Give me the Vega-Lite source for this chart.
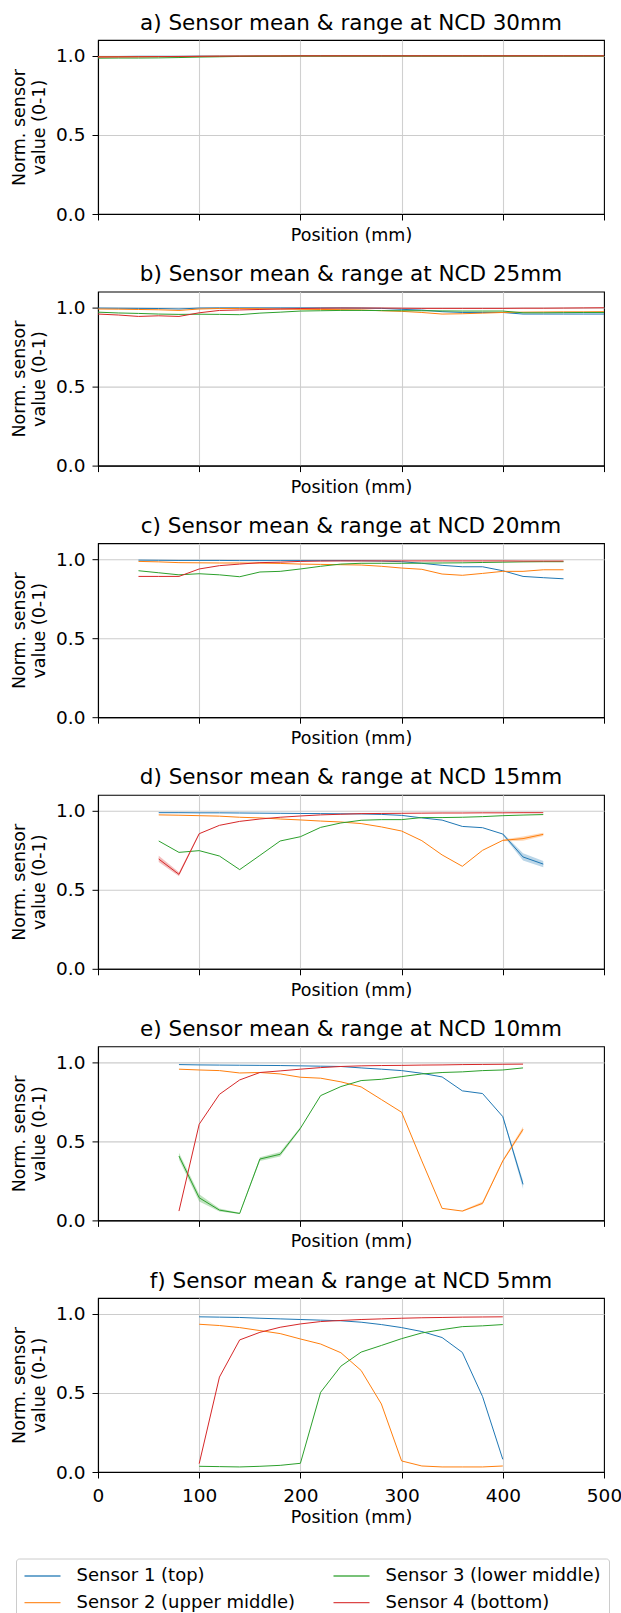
{
"$schema": "https://vega.github.io/schema/vega-lite/v6.json",
"background": "white",
"padding": {"left": 10, "top": 11, "right": 5, "bottom": 0},
"spacing": 17.6,
"config": {
  "font": "DejaVu Sans",
  "view": {"stroke": "#000000", "strokeWidth": 1.1},
  "axis": {"domain": true, "domainColor": "#000000", "domainWidth": 1.1, "tickColor": "#000000", "tickSize": 6, "tickWidth": 1, "labelFontSize": 18.5, "titleFontSize": 17.5, "labelColor": "#000000", "titleColor": "#000000", "titleFontWeight": "normal", "gridWidth": 1.1, "labelFlush": false, "labelOverlap": false, "labelFont": "DejaVu Sans", "titleFont": "DejaVu Sans"},
  "title": {"fontSize": 21.5, "fontWeight": "normal", "color": "#000000", "font": "DejaVu Sans", "anchor": "middle", "offset": 6},
  "legend": {"columns": 2, "symbolType": "M-1,0H3", "symbolSize": 324, "symbolStrokeWidth": 1.3, "symbolOpacity": 0.85, "labelFontSize": 18, "labelFont": "DejaVu Sans", "labelColor": "#000000", "labelOffset": 33, "columnPadding": 35, "rowPadding": 7.7, "padding": 7.5, "strokeColor": "#cccccc", "cornerRadius": 3, "fillColor": "#ffffff", "labelLimit": 400}
},
"datasets": {
"main": [
{"p":"a","x":0,"s1":0.996,"s2":0.994,"s3":0.985,"s4":0.992},
{"p":"a","x":20,"s1":0.996,"s2":0.994,"s3":0.986,"s4":0.993},
{"p":"a","x":40,"s1":0.997,"s2":0.994,"s3":0.986,"s4":0.994},
{"p":"a","x":60,"s1":0.997,"s2":0.995,"s3":0.987,"s4":0.995},
{"p":"a","x":80,"s1":0.997,"s2":0.995,"s3":0.989,"s4":0.996},
{"p":"a","x":100,"s1":0.998,"s2":0.996,"s3":0.992,"s4":0.997},
{"p":"a","x":120,"s1":0.998,"s2":0.997,"s3":0.994,"s4":0.998},
{"p":"a","x":140,"s1":0.999,"s2":0.998,"s3":0.996,"s4":0.998},
{"p":"a","x":160,"s1":0.999,"s2":0.998,"s3":0.997,"s4":0.999},
{"p":"a","x":180,"s1":0.999,"s2":0.999,"s3":0.998,"s4":0.999},
{"p":"a","x":200,"s1":0.999,"s2":0.999,"s3":0.999,"s4":1.0},
{"p":"a","x":220,"s1":0.999,"s2":0.999,"s3":0.999,"s4":1.0},
{"p":"a","x":240,"s1":0.999,"s2":0.999,"s3":0.999,"s4":1.0},
{"p":"a","x":260,"s1":0.999,"s2":0.999,"s3":0.999,"s4":1.0},
{"p":"a","x":280,"s1":0.999,"s2":0.999,"s3":0.999,"s4":1.0},
{"p":"a","x":300,"s1":0.999,"s2":0.999,"s3":0.999,"s4":1.0},
{"p":"a","x":320,"s1":0.999,"s2":0.999,"s3":0.999,"s4":1.0},
{"p":"a","x":340,"s1":0.999,"s2":0.999,"s3":0.999,"s4":1.0},
{"p":"a","x":360,"s1":0.999,"s2":0.999,"s3":0.999,"s4":1.0},
{"p":"a","x":380,"s1":0.999,"s2":0.999,"s3":0.999,"s4":1.0},
{"p":"a","x":400,"s1":0.999,"s2":0.999,"s3":0.999,"s4":1.0},
{"p":"a","x":420,"s1":0.999,"s2":0.999,"s3":0.999,"s4":1.0},
{"p":"a","x":440,"s1":0.999,"s2":0.999,"s3":0.999,"s4":1.0},
{"p":"a","x":460,"s1":0.999,"s2":0.999,"s3":0.999,"s4":1.0},
{"p":"a","x":480,"s1":0.999,"s2":0.999,"s3":0.999,"s4":1.0},
{"p":"a","x":500,"s1":0.999,"s2":0.999,"s3":0.999,"s4":1.0},
{"p":"b","x":0,"s1":0.996,"s2":0.99,"s3":0.97,"s4":0.958},
{"p":"b","x":20,"s1":0.995,"s2":0.989,"s3":0.965,"s4":0.952},
{"p":"b","x":40,"s1":0.994,"s2":0.987,"s3":0.962,"s4":0.943},
{"p":"b","x":60,"s1":0.993,"s2":0.985,"s3":0.958,"s4":0.947},
{"p":"b","x":80,"s1":0.99,"s2":0.981,"s3":0.956,"s4":0.943},
{"p":"b","x":100,"s1":0.996,"s2":0.99,"s3":0.957,"s4":0.966},
{"p":"b","x":120,"s1":0.997,"s2":0.993,"s3":0.956,"s4":0.981},
{"p":"b","x":140,"s1":0.997,"s2":0.993,"s3":0.954,"s4":0.984},
{"p":"b","x":160,"s1":0.997,"s2":0.992,"s3":0.964,"s4":0.987},
{"p":"b","x":180,"s1":0.997,"s2":0.99,"s3":0.97,"s4":0.99},
{"p":"b","x":200,"s1":0.997,"s2":0.988,"s3":0.977,"s4":0.993},
{"p":"b","x":220,"s1":0.997,"s2":0.987,"s3":0.979,"s4":0.995},
{"p":"b","x":240,"s1":0.997,"s2":0.986,"s3":0.981,"s4":0.996},
{"p":"b","x":260,"s1":0.996,"s2":0.984,"s3":0.981,"s4":0.996},
{"p":"b","x":280,"s1":0.994,"s2":0.979,"s3":0.98,"s4":0.996},
{"p":"b","x":300,"s1":0.988,"s2":0.975,"s3":0.979,"s4":0.995},
{"p":"b","x":320,"s1":0.983,"s2":0.968,"s3":0.979,"s4":0.994},
{"p":"b","x":340,"s1":0.973,"s2":0.958,"s3":0.978,"s4":0.994},
{"p":"b","x":360,"s1":0.968,"s2":0.96,"s3":0.977,"s4":0.994},
{"p":"b","x":380,"s1":0.968,"s2":0.964,"s3":0.977,"s4":0.994},
{"p":"b","x":400,"s1":0.968,"s2":0.968,"s3":0.977,"s4":0.994},
{"p":"b","x":420,"s1":0.958,"s2":0.97,"s3":0.966,"s4":0.995},
{"p":"b","x":440,"s1":0.958,"s2":0.971,"s3":0.966,"s4":0.995},
{"p":"b","x":460,"s1":0.958,"s2":0.972,"s3":0.967,"s4":0.996},
{"p":"b","x":480,"s1":0.958,"s2":0.972,"s3":0.968,"s4":0.997},
{"p":"b","x":500,"s1":0.958,"s2":0.973,"s3":0.968,"s4":0.998},
{"p":"c","x":40,"s1":0.993,"s2":0.985,"s3":0.926,"s4":0.89},
{"p":"c","x":60,"s1":0.992,"s2":0.982,"s3":0.913,"s4":0.89},
{"p":"c","x":80,"s1":0.991,"s2":0.977,"s3":0.9,"s4":0.89},
{"p":"c","x":100,"s1":0.991,"s2":0.976,"s3":0.907,"s4":0.937},
{"p":"c","x":120,"s1":0.991,"s2":0.975,"s3":0.9,"s4":0.958},
{"p":"c","x":140,"s1":0.99,"s2":0.975,"s3":0.888,"s4":0.968},
{"p":"c","x":160,"s1":0.99,"s2":0.974,"s3":0.918,"s4":0.977},
{"p":"c","x":180,"s1":0.99,"s2":0.972,"s3":0.922,"s4":0.98},
{"p":"c","x":200,"s1":0.99,"s2":0.968,"s3":0.937,"s4":0.985},
{"p":"c","x":220,"s1":0.99,"s2":0.966,"s3":0.954,"s4":0.987},
{"p":"c","x":240,"s1":0.99,"s2":0.964,"s3":0.968,"s4":0.988},
{"p":"c","x":260,"s1":0.989,"s2":0.962,"s3":0.973,"s4":0.988},
{"p":"c","x":280,"s1":0.987,"s2":0.954,"s3":0.973,"s4":0.988},
{"p":"c","x":300,"s1":0.983,"s2":0.943,"s3":0.973,"s4":0.988},
{"p":"c","x":320,"s1":0.973,"s2":0.935,"s3":0.974,"s4":0.988},
{"p":"c","x":340,"s1":0.96,"s2":0.905,"s3":0.975,"s4":0.988},
{"p":"c","x":360,"s1":0.951,"s2":0.897,"s3":0.976,"s4":0.988},
{"p":"c","x":380,"s1":0.951,"s2":0.909,"s3":0.978,"s4":0.988},
{"p":"c","x":400,"s1":0.926,"s2":0.922,"s3":0.98,"s4":0.988},
{"p":"c","x":420,"s1":0.89,"s2":0.922,"s3":0.982,"s4":0.987},
{"p":"c","x":440,"s1":0.882,"s2":0.932,"s3":0.983,"s4":0.987},
{"p":"c","x":460,"s1":0.875,"s2":0.932,"s3":0.983,"s4":0.987},
{"p":"d","x":60,"s1":0.987,"s2":0.973,"s3":0.808,"s4":0.694},
{"p":"d","x":80,"s1":0.987,"s2":0.971,"s3":0.736,"s4":0.597},
{"p":"d","x":100,"s1":0.986,"s2":0.968,"s3":0.747,"s4":0.854},
{"p":"d","x":120,"s1":0.986,"s2":0.965,"s3":0.713,"s4":0.907},
{"p":"d","x":140,"s1":0.985,"s2":0.958,"s3":0.627,"s4":0.932},
{"p":"d","x":160,"s1":0.984,"s2":0.954,"s3":0.717,"s4":0.947},
{"p":"d","x":180,"s1":0.983,"s2":0.947,"s3":0.808,"s4":0.958},
{"p":"d","x":200,"s1":0.982,"s2":0.941,"s3":0.835,"s4":0.966},
{"p":"d","x":220,"s1":0.981,"s2":0.934,"s3":0.894,"s4":0.973},
{"p":"d","x":240,"s1":0.98,"s2":0.928,"s3":0.922,"s4":0.977},
{"p":"d","x":260,"s1":0.979,"s2":0.918,"s3":0.939,"s4":0.981},
{"p":"d","x":280,"s1":0.976,"s2":0.897,"s3":0.943,"s4":0.982},
{"p":"d","x":300,"s1":0.97,"s2":0.871,"s3":0.943,"s4":0.983},
{"p":"d","x":320,"s1":0.954,"s2":0.81,"s3":0.956,"s4":0.984},
{"p":"d","x":340,"s1":0.94,"s2":0.72,"s3":0.956,"s4":0.985},
{"p":"d","x":360,"s1":0.9,"s2":0.648,"s3":0.958,"s4":0.985},
{"p":"d","x":380,"s1":0.892,"s2":0.749,"s3":0.962,"s4":0.986},
{"p":"d","x":400,"s1":0.852,"s2":0.812,"s3":0.968,"s4":0.986},
{"p":"d","x":420,"s1":0.707,"s2":0.823,"s3":0.972,"s4":0.987},
{"p":"d","x":440,"s1":0.662,"s2":0.85,"s3":0.975,"s4":0.987},
{"p":"e","x":80,"s1":0.985,"s2":0.956,"s3":0.407,"s4":0.059},
{"p":"e","x":100,"s1":0.983,"s2":0.951,"s3":0.143,"s4":0.608},
{"p":"e","x":120,"s1":0.982,"s2":0.947,"s3":0.065,"s4":0.797},
{"p":"e","x":140,"s1":0.981,"s2":0.932,"s3":0.044,"s4":0.888},
{"p":"e","x":160,"s1":0.98,"s2":0.935,"s3":0.388,"s4":0.935},
{"p":"e","x":180,"s1":0.979,"s2":0.926,"s3":0.418,"s4":0.945},
{"p":"e","x":200,"s1":0.977,"s2":0.905,"s3":0.582,"s4":0.956},
{"p":"e","x":220,"s1":0.975,"s2":0.899,"s3":0.789,"s4":0.966},
{"p":"e","x":240,"s1":0.973,"s2":0.876,"s3":0.846,"s4":0.973},
{"p":"e","x":260,"s1":0.964,"s2":0.844,"s3":0.884,"s4":0.977},
{"p":"e","x":280,"s1":0.956,"s2":0.764,"s3":0.892,"s4":0.979},
{"p":"e","x":300,"s1":0.947,"s2":0.684,"s3":0.909,"s4":0.98},
{"p":"e","x":320,"s1":0.93,"s2":0.376,"s3":0.926,"s4":0.982},
{"p":"e","x":340,"s1":0.907,"s2":0.076,"s3":0.935,"s4":0.983},
{"p":"e","x":360,"s1":0.819,"s2":0.059,"s3":0.939,"s4":0.985},
{"p":"e","x":380,"s1":0.802,"s2":0.108,"s3":0.947,"s4":0.986},
{"p":"e","x":400,"s1":0.656,"s2":0.376,"s3":0.951,"s4":0.987},
{"p":"e","x":420,"s1":0.228,"s2":0.576,"s3":0.964,"s4":0.988},
{"p":"f","x":100,"s1":0.981,"s2":0.934,"s3":0.036,"s4":0.053},
{"p":"f","x":120,"s1":0.979,"s2":0.926,"s3":0.034,"s4":0.6},
{"p":"f","x":140,"s1":0.977,"s2":0.913,"s3":0.032,"s4":0.835},
{"p":"f","x":160,"s1":0.972,"s2":0.894,"s3":0.036,"s4":0.883},
{"p":"f","x":180,"s1":0.968,"s2":0.875,"s3":0.042,"s4":0.915},
{"p":"f","x":200,"s1":0.964,"s2":0.841,"s3":0.055,"s4":0.936},
{"p":"f","x":220,"s1":0.96,"s2":0.809,"s3":0.504,"s4":0.951},
{"p":"f","x":240,"s1":0.956,"s2":0.754,"s3":0.669,"s4":0.958},
{"p":"f","x":260,"s1":0.947,"s2":0.642,"s3":0.758,"s4":0.964},
{"p":"f","x":280,"s1":0.932,"s2":0.43,"s3":0.8,"s4":0.968},
{"p":"f","x":300,"s1":0.913,"s2":0.07,"s3":0.843,"s4":0.972},
{"p":"f","x":320,"s1":0.888,"s2":0.038,"s3":0.879,"s4":0.975},
{"p":"f","x":340,"s1":0.85,"s2":0.032,"s3":0.9,"s4":0.977},
{"p":"f","x":360,"s1":0.756,"s2":0.032,"s3":0.919,"s4":0.979},
{"p":"f","x":380,"s1":0.477,"s2":0.032,"s3":0.924,"s4":0.98},
{"p":"f","x":400,"s1":0.08,"s2":0.038,"s3":0.932,"s4":0.981}
],
"bands": [
{"p":"d","x":60,"s":"s4","lo":0.675,"hi":0.715},
{"p":"d","x":80,"s":"s4","lo":0.585,"hi":0.61},
{"p":"d","x":100,"s":"s4","lo":0.849,"hi":0.859},
{"p":"d","x":400,"s":"s1","lo":0.845,"hi":0.858},
{"p":"d","x":420,"s":"s1","lo":0.685,"hi":0.73},
{"p":"d","x":440,"s":"s1","lo":0.642,"hi":0.682},
{"p":"d","x":400,"s":"s2","lo":0.806,"hi":0.818},
{"p":"d","x":420,"s":"s2","lo":0.81,"hi":0.836},
{"p":"d","x":440,"s":"s2","lo":0.84,"hi":0.86},
{"p":"e","x":80,"s":"s3","lo":0.385,"hi":0.428},
{"p":"e","x":100,"s":"s3","lo":0.12,"hi":0.166},
{"p":"e","x":120,"s":"s3","lo":0.056,"hi":0.076},
{"p":"e","x":140,"s":"s3","lo":0.04,"hi":0.048},
{"p":"e","x":160,"s":"s3","lo":0.376,"hi":0.4},
{"p":"e","x":180,"s":"s3","lo":0.404,"hi":0.432},
{"p":"e","x":200,"s":"s3","lo":0.575,"hi":0.59},
{"p":"e","x":400,"s":"s1","lo":0.65,"hi":0.664},
{"p":"e","x":420,"s":"s1","lo":0.2,"hi":0.25},
{"p":"e","x":360,"s":"s2","lo":0.055,"hi":0.063},
{"p":"e","x":380,"s":"s2","lo":0.1,"hi":0.12},
{"p":"e","x":400,"s":"s2","lo":0.37,"hi":0.385},
{"p":"e","x":420,"s":"s2","lo":0.562,"hi":0.592}
]
},
"vconcat": [
{"title": "a) Sensor mean & range at NCD 30mm", "width": 506, "height": 174,
 "layer": [
  {"data": {"name": "main"}, "transform": [{"filter": "datum.p == 'a'"}, {"fold": ["s1","s2","s3","s4"], "as": ["s","v"]}], "mark": {"type": "line", "strokeWidth": 1},
   "encoding": {"x": {"field": "x", "type": "quantitative", "scale": {"domain": [0, 500], "nice": false}, "axis": {"title": "Position (mm)", "values": [0,100,200,300,400,500], "labels": false, "titlePadding": 6, "gridColor": {"condition": {"test": "datum.value == 0 || datum.value == 500", "value": "transparent"}, "value": "#d0d0d0"}}},
    "y": {"field": "v", "type": "quantitative", "scale": {"domain": [0, 1.1], "nice": false}, "axis": {"title": ["Norm. sensor", "value (0-1)"], "values": [0, 0.5, 1], "format": ".1f", "labelPadding": 7, "titlePadding": 7, "titleLineHeight": 20, "gridColor": {"condition": {"test": "datum.value == 0", "value": "transparent"}, "value": "#cccccc"}}},
    "color": {"field": "s", "type": "nominal", "scale": {"domain": ["s1","s2","s3","s4"], "range": ["#1f77b4","#ff7f0e","#2ca02c","#d62728"]},
     "legend": {"orient": "none", "legendX": -82, "legendY": 1518.5, "direction": "vertical", "title": null, "labelExpr": "datum.label == 's1' ? 'Sensor 1 (top)' : datum.label == 's2' ? 'Sensor 2 (upper middle)' : datum.label == 's3' ? 'Sensor 3 (lower middle)' : 'Sensor 4 (bottom)'"}}}}
 ]},
{"title": "b) Sensor mean & range at NCD 25mm", "width": 506, "height": 174,
 "layer": [
  {"data": {"name": "main"}, "transform": [{"filter": "datum.p == 'b'"}, {"fold": ["s1","s2","s3","s4"], "as": ["s","v"]}], "mark": {"type": "line", "strokeWidth": 1},
   "encoding": {"x": {"field": "x", "type": "quantitative", "scale": {"domain": [0, 500], "nice": false}, "axis": {"title": "Position (mm)", "values": [0,100,200,300,400,500], "labels": false, "titlePadding": 6, "gridColor": {"condition": {"test": "datum.value == 0 || datum.value == 500", "value": "transparent"}, "value": "#d0d0d0"}}},
    "y": {"field": "v", "type": "quantitative", "scale": {"domain": [0, 1.1], "nice": false}, "axis": {"title": ["Norm. sensor", "value (0-1)"], "values": [0, 0.5, 1], "format": ".1f", "labelPadding": 7, "titlePadding": 7, "titleLineHeight": 20, "gridColor": {"condition": {"test": "datum.value == 0", "value": "transparent"}, "value": "#cccccc"}}},
    "color": {"field": "s", "type": "nominal", "scale": {"domain": ["s1","s2","s3","s4"], "range": ["#1f77b4","#ff7f0e","#2ca02c","#d62728"]}}}}
 ]},
{"title": "c) Sensor mean & range at NCD 20mm", "width": 506, "height": 174,
 "layer": [
  {"data": {"name": "main"}, "transform": [{"filter": "datum.p == 'c'"}, {"fold": ["s1","s2","s3","s4"], "as": ["s","v"]}], "mark": {"type": "line", "strokeWidth": 1},
   "encoding": {"x": {"field": "x", "type": "quantitative", "scale": {"domain": [0, 500], "nice": false}, "axis": {"title": "Position (mm)", "values": [0,100,200,300,400,500], "labels": false, "titlePadding": 6, "gridColor": {"condition": {"test": "datum.value == 0 || datum.value == 500", "value": "transparent"}, "value": "#d0d0d0"}}},
    "y": {"field": "v", "type": "quantitative", "scale": {"domain": [0, 1.1], "nice": false}, "axis": {"title": ["Norm. sensor", "value (0-1)"], "values": [0, 0.5, 1], "format": ".1f", "labelPadding": 7, "titlePadding": 7, "titleLineHeight": 20, "gridColor": {"condition": {"test": "datum.value == 0", "value": "transparent"}, "value": "#cccccc"}}},
    "color": {"field": "s", "type": "nominal", "scale": {"domain": ["s1","s2","s3","s4"], "range": ["#1f77b4","#ff7f0e","#2ca02c","#d62728"]}}}}
 ]},
{"title": "d) Sensor mean & range at NCD 15mm", "width": 506, "height": 174,
 "layer": [
  {"data": {"name": "bands"}, "transform": [{"filter": "datum.p == 'd'"}], "mark": {"type": "area", "opacity": 0.3},
   "encoding": {"x": {"field": "x", "type": "quantitative", "scale": {"domain": [0, 500], "nice": false}, "axis": {"title": "Position (mm)", "values": [0,100,200,300,400,500], "labels": false, "titlePadding": 6, "gridColor": {"condition": {"test": "datum.value == 0 || datum.value == 500", "value": "transparent"}, "value": "#d0d0d0"}}},
    "y": {"field": "lo", "type": "quantitative", "scale": {"domain": [0, 1.1], "nice": false}, "axis": {"title": ["Norm. sensor", "value (0-1)"], "values": [0, 0.5, 1], "format": ".1f", "labelPadding": 7, "titlePadding": 7, "titleLineHeight": 20, "gridColor": {"condition": {"test": "datum.value == 0", "value": "transparent"}, "value": "#cccccc"}}},
    "y2": {"field": "hi"},
    "color": {"field": "s", "type": "nominal", "scale": {"domain": ["s1","s2","s3","s4"], "range": ["#1f77b4","#ff7f0e","#2ca02c","#d62728"]}}}},
  {"data": {"name": "main"}, "transform": [{"filter": "datum.p == 'd'"}, {"fold": ["s1","s2","s3","s4"], "as": ["s","v"]}], "mark": {"type": "line", "strokeWidth": 1},
   "encoding": {"x": {"field": "x", "type": "quantitative", "scale": {"domain": [0, 500], "nice": false}, "axis": {"title": "Position (mm)", "values": [0,100,200,300,400,500], "labels": false, "titlePadding": 6, "gridColor": {"condition": {"test": "datum.value == 0 || datum.value == 500", "value": "transparent"}, "value": "#d0d0d0"}}},
    "y": {"field": "v", "type": "quantitative", "scale": {"domain": [0, 1.1], "nice": false}, "axis": {"title": ["Norm. sensor", "value (0-1)"], "values": [0, 0.5, 1], "format": ".1f", "labelPadding": 7, "titlePadding": 7, "titleLineHeight": 20, "gridColor": {"condition": {"test": "datum.value == 0", "value": "transparent"}, "value": "#cccccc"}}},
    "color": {"field": "s", "type": "nominal", "scale": {"domain": ["s1","s2","s3","s4"], "range": ["#1f77b4","#ff7f0e","#2ca02c","#d62728"]}}}}
 ]},
{"title": "e) Sensor mean & range at NCD 10mm", "width": 506, "height": 174,
 "layer": [
  {"data": {"name": "bands"}, "transform": [{"filter": "datum.p == 'e'"}], "mark": {"type": "area", "opacity": 0.3},
   "encoding": {"x": {"field": "x", "type": "quantitative", "scale": {"domain": [0, 500], "nice": false}, "axis": {"title": "Position (mm)", "values": [0,100,200,300,400,500], "labels": false, "titlePadding": 6, "gridColor": {"condition": {"test": "datum.value == 0 || datum.value == 500", "value": "transparent"}, "value": "#d0d0d0"}}},
    "y": {"field": "lo", "type": "quantitative", "scale": {"domain": [0, 1.1], "nice": false}, "axis": {"title": ["Norm. sensor", "value (0-1)"], "values": [0, 0.5, 1], "format": ".1f", "labelPadding": 7, "titlePadding": 7, "titleLineHeight": 20, "gridColor": {"condition": {"test": "datum.value == 0", "value": "transparent"}, "value": "#cccccc"}}},
    "y2": {"field": "hi"},
    "color": {"field": "s", "type": "nominal", "scale": {"domain": ["s1","s2","s3","s4"], "range": ["#1f77b4","#ff7f0e","#2ca02c","#d62728"]}}}},
  {"data": {"name": "main"}, "transform": [{"filter": "datum.p == 'e'"}, {"fold": ["s1","s2","s3","s4"], "as": ["s","v"]}], "mark": {"type": "line", "strokeWidth": 1},
   "encoding": {"x": {"field": "x", "type": "quantitative", "scale": {"domain": [0, 500], "nice": false}, "axis": {"title": "Position (mm)", "values": [0,100,200,300,400,500], "labels": false, "titlePadding": 6, "gridColor": {"condition": {"test": "datum.value == 0 || datum.value == 500", "value": "transparent"}, "value": "#d0d0d0"}}},
    "y": {"field": "v", "type": "quantitative", "scale": {"domain": [0, 1.1], "nice": false}, "axis": {"title": ["Norm. sensor", "value (0-1)"], "values": [0, 0.5, 1], "format": ".1f", "labelPadding": 7, "titlePadding": 7, "titleLineHeight": 20, "gridColor": {"condition": {"test": "datum.value == 0", "value": "transparent"}, "value": "#cccccc"}}},
    "color": {"field": "s", "type": "nominal", "scale": {"domain": ["s1","s2","s3","s4"], "range": ["#1f77b4","#ff7f0e","#2ca02c","#d62728"]}}}}
 ]},
{"title": "f) Sensor mean & range at NCD 5mm", "width": 506, "height": 174,
 "layer": [
  {"data": {"name": "main"}, "transform": [{"filter": "datum.p == 'f'"}, {"fold": ["s1","s2","s3","s4"], "as": ["s","v"]}], "mark": {"type": "line", "strokeWidth": 1},
   "encoding": {"x": {"field": "x", "type": "quantitative", "scale": {"domain": [0, 500], "nice": false}, "axis": {"title": "Position (mm)", "values": [0,100,200,300,400,500], "labelPadding": 8, "titlePadding": 4, "gridColor": {"condition": {"test": "datum.value == 0 || datum.value == 500", "value": "transparent"}, "value": "#d0d0d0"}}},
    "y": {"field": "v", "type": "quantitative", "scale": {"domain": [0, 1.1], "nice": false}, "axis": {"title": ["Norm. sensor", "value (0-1)"], "values": [0, 0.5, 1], "format": ".1f", "labelPadding": 7, "titlePadding": 7, "titleLineHeight": 20, "gridColor": {"condition": {"test": "datum.value == 0", "value": "transparent"}, "value": "#cccccc"}}},
    "color": {"field": "s", "type": "nominal", "scale": {"domain": ["s1","s2","s3","s4"], "range": ["#1f77b4","#ff7f0e","#2ca02c","#d62728"]}}}}
 ]}
],
"resolve": {"scale": {"color": "shared"}, "legend": {"color": "shared"}}
}
